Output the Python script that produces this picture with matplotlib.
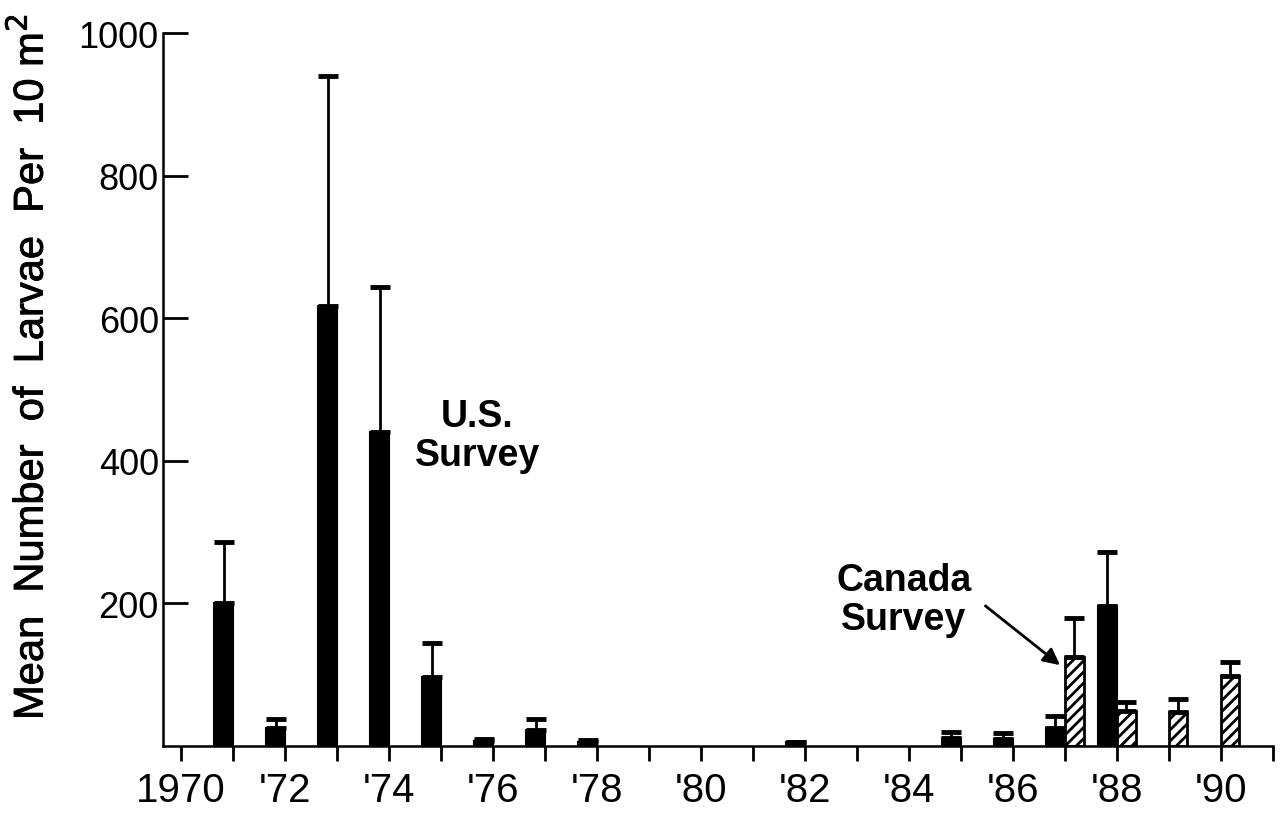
import numpy as np
import matplotlib
matplotlib.use('Agg')
import matplotlib.pyplot as plt
import matplotlib.patheffects as pe

plt.rcParams['font.family'] = ['Liberation Sans', 'DejaVu Sans']
plt.rcParams['hatch.linewidth'] = 2.0

# U.S. survey (solid bars)
us_years = [1971, 1972, 1973, 1974, 1975, 1976, 1977, 1978, 1982, 1985, 1986, 1987, 1988]
us_mean = [200, 25, 617, 440, 97, 7, 22, 6, 5, 11, 10, 25, 196]
us_top = [286, 38, 940, 644, 145, 10, 38, 8, 5, 20, 18, 42, 272]

# Canada survey (hatched bars)
ca_years = [1987, 1988, 1989, 1990]
ca_mean = [125, 49, 48, 98]
ca_top = [180, 62, 66, 118]

tick_years = list(range(1970, 1992))
label_years = ['1970', "'72", "'74", "'76", "'78", "'80", "'82", "'84", "'86", "'88", "'90"]

bar_w = 0.36

fig = plt.figure(figsize=(12.83, 8.2), dpi=100)
ax = fig.add_axes([0.127, 0.089, 0.865, 0.8695])

us_err = [np.zeros(len(us_mean)), np.array(us_top) - np.array(us_mean)]
ax.bar(np.array(us_years) - bar_w / 2, us_mean, width=bar_w, color='black',
       edgecolor='black', linewidth=1.5)
ax.errorbar(np.array(us_years) - bar_w / 2, us_mean, yerr=us_err, fmt='none',
            ecolor='black', elinewidth=2, capsize=7, capthick=3.5)

ca_err = [np.zeros(len(ca_mean)), np.array(ca_top) - np.array(ca_mean)]
ax.bar(np.array(ca_years) + bar_w / 2, ca_mean, width=bar_w, color='white',
       edgecolor='black', linewidth=2, hatch='///')
ax.errorbar(np.array(ca_years) + bar_w / 2, ca_mean, yerr=ca_err, fmt='none',
            ecolor='black', elinewidth=2, capsize=7, capthick=3.5)

ax.set_xlim(1969.65, 1991)
ax.set_ylim(0, 1000)

ax.spines['top'].set_visible(False)
ax.spines['right'].set_visible(False)
ax.spines['left'].set_linewidth(1.8)
ax.spines['bottom'].set_linewidth(1.8)

ax.set_xticks(tick_years)
ax.set_xticklabels([label_years[i // 2] if i % 2 == 0 else '' for i in range(len(tick_years))])
ax.set_yticks([200, 400, 600, 800, 1000])
ax.tick_params(axis='x', direction='out', length=11, width=2, labelsize=29, pad=7)
ax.tick_params(axis='y', direction='in', length=18, width=2, labelsize=26, pad=3)

ylab = ax.set_ylabel('Mean  Number  of  Larvae  Per  10 m$^2$', fontsize=30)
ylab.set_path_effects([pe.withStroke(linewidth=0.6, foreground='black')])
ax.yaxis.set_label_coords(-0.1, 0.531)

ax.text(1975.7, 435, 'U.S.\nSurvey', fontsize=27, fontweight='bold',
        ha='center', va='center', multialignment='center', linespacing=1.1)
ax.text(1983.9, 206, 'Canada\nSurvey', fontsize=27, fontweight='bold',
        ha='center', va='center', multialignment='center', linespacing=1.1)
ax.annotate('', xy=(1986.95, 111), xytext=(1985.43, 199),
            arrowprops=dict(arrowstyle='-|>', color='black', lw=2,
                            mutation_scale=25))

fig.savefig('out.png', dpi=100)
